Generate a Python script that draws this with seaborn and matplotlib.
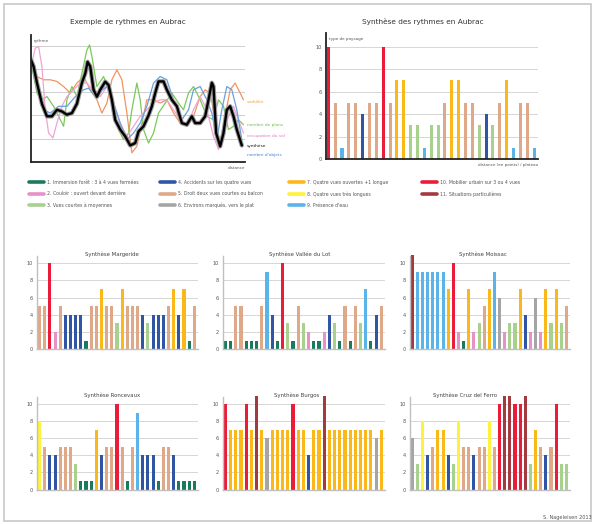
import matplotlib
matplotlib.use("Agg")
import pandas as pd
import seaborn as sns
import matplotlib.pyplot as plt
import matplotlib.patheffects as pe
from matplotlib.lines import Line2D
from matplotlib.patches import Rectangle

# couleurs des types de paysage (1 a 11)
couleurs = {1: "#1b7a5e", 2: "#e890c8", 3: "#a9d18e", 4: "#2f55a4", 5: "#dfa989",
            6: "#a5a5a5", 7: "#fbb919", 8: "#fff23a", 9: "#5ab4ea", 10: "#ea1c3a",
            11: "#a33a3f"}
libelles = ["1. Immersion forêt : 3 à 4 vues fermées",
            "2. Couloir : ouvert devant derrière",
            "3. Vues courtes à moyennes",
            "4. Accidents sur les quatre vues",
            "5. Droit deux vues courtes ou balcon",
            "6. Environs marqués, vers le plat",
            "7. Quatre vues ouvertes +1 longue",
            "8. Quatre vues très longues",
            "9. Présence d'eau",
            "10. Mobilier urbain sur 3 ou 4 vues",
            "11. Situations particulières"]

# courbes "Exemple de rythmes en Aubrac"
x_synthese = [0, 8, 18, 33, 48, 63, 78, 93, 108, 123, 138, 153, 163, 170, 178, 188, 198, 208,
              223, 233, 243, 253, 268, 283, 298, 313, 323, 338, 353, 363, 373, 383, 398, 408,
              423, 438, 453, 468, 483, 493, 508, 523, 533, 543, 548, 556, 568, 578, 588, 598,
              608, 618, 633]
y_synthese = [4.39, 4.1, 3.4, 2.5, 1.96, 1.96, 2.24, 2.17, 2.03, 2.1, 2.5, 3.4, 3.8, 4.3, 4.1,
              3.1, 2.8, 3.1, 3.45, 3.3, 2.67, 1.8, 1.39, 1.1, 0.71, 0.81, 1.31, 1.53, 2.0, 2.39,
              2.96, 3.46, 3.46, 3.1, 2.67, 2.39, 1.67, 1.6, 1.96, 1.67, 1.67, 1.96, 2.67, 3.4,
              3.24, 1.24, 0.67, 1.24, 2.24, 2.39, 1.96, 1.39, 0.71]
x_objets = [0, 18, 38, 58, 83, 108, 133, 158, 173, 188, 208, 228, 248, 268, 288, 308, 328,
            348, 368, 388, 408, 428, 453, 473, 488, 508, 528, 543, 558, 573, 588, 603, 618, 633]
y_objets = [4.3, 3.24, 2.24, 2.1, 2.39, 2.39, 2.8, 3.1, 3.17, 2.9, 3.03, 3.24, 2.53, 1.67,
            0.96, 1.24, 1.67, 2.39, 3.39, 3.67, 3.53, 2.67, 1.81, 2.24, 3.1, 3.24, 2.67, 2.1,
            0.96, 2.24, 3.24, 3.1, 2.24, 0.96]
x_plans = [0, 18, 33, 48, 68, 83, 98, 108, 123, 138, 153, 168, 176, 183, 198, 218, 233, 248,
           263, 278, 293, 303, 318, 328, 338, 353, 368, 383, 403, 423, 443, 458, 473, 488, 508,
           528, 548, 563, 578, 593, 608, 623, 638]
y_plans = [4.3, 2.96, 2.67, 2.81, 2.39, 1.96, 1.53, 2.67, 3.24, 2.81, 3.81, 4.81, 5.03, 4.53,
           3.24, 3.67, 3.1, 2.39, 1.39, 0.96, 1.24, 2.24, 3.39, 2.67, 1.39, 0.81, 1.24, 2.1,
           2.53, 2.96, 2.53, 2.24, 2.96, 3.24, 2.67, 1.96, 1.81, 2.67, 2.39, 1.39, 1.53, 1.81,
           1.6]
x_sol = [0, 13, 23, 33, 43, 53, 66, 78, 93, 108, 128, 148, 168, 188, 208, 228, 248, 268, 288,
         308, 328, 348, 368, 388, 408, 428, 448, 468, 488, 508, 528, 548, 563, 578, 593, 608,
         623, 638]
y_sol = [4.1, 4.89, 4.96, 4.1, 2.24, 1.24, 1.03, 1.67, 2.39, 2.81, 3.1, 3.39, 3.39, 3.03,
         2.81, 3.24, 2.53, 1.67, 1.1, 1.53, 1.96, 2.24, 2.53, 2.67, 2.67, 2.24, 1.81, 1.53,
         2.24, 2.81, 2.24, 1.1, 0.53, 1.24, 1.96, 2.39, 1.81, 1.24]
x_visibilite = [0, 18, 38, 58, 78, 98, 118, 138, 158, 178, 198, 213, 228, 243, 258, 273, 288,
                303, 318, 333, 348, 368, 388, 408, 428, 448, 468, 488, 508, 523, 538, 553,
                568, 583, 598, 613, 628, 638]
y_visibilite = [4.24, 3.67, 3.53, 3.53, 3.46, 3.24, 2.96, 3.39, 3.67, 3.1, 2.67, 2.1, 2.53,
                3.53, 3.96, 3.53, 2.1, 0.39, 0.67, 1.67, 2.67, 2.67, 2.53, 2.67, 2.1, 1.67,
                1.53, 1.96, 2.81, 3.1, 2.96, 1.81, 0.81, 1.96, 3.1, 3.39, 2.96, 2.67]

# syntheses (type de paysage par point)
aubrac_types = [10, 5, 9, 5, 5, 4, 5, 5, 10, 5, 7, 7, 3, 3, 9, 3, 3, 5, 7, 7, 5, 5, 3, 4, 3,
                5, 7, 9, 5, 5, 9]
aubrac_vals = [10, 5, 1, 5, 5, 4, 5, 5, 10, 5, 7, 7, 3, 3, 1, 3, 3, 5, 7, 7, 5, 5, 3, 4, 3,
               5, 7, 1, 5, 5, 1]
margeride_types = [5, 5, 10, 2, 5, 4, 4, 4, 4, 1, 5, 5, 7, 5, 5, 3, 7, 5, 5, 5, 4, 3, 4, 4,
                   4, 5, 7, 4, 7, 1, 5]
margeride_vals = [5, 5, 10, 2, 5, 4, 4, 4, 4, 1, 5, 5, 7, 5, 5, 3, 7, 5, 5, 5, 4, 3, 4, 4,
                  4, 5, 7, 4, 7, 1, 5]
lot_types = [1, 1, 5, 5, 1, 1, 1, 5, 9, 4, 1, 10, 3, 1, 5, 3, 2, 1, 1, 2, 4, 3, 1, 5, 1, 5,
             3, 9, 1, 4, 5]
lot_vals = [1, 1, 5, 5, 1, 1, 1, 5, 9, 4, 1, 10, 3, 1, 5, 3, 2, 1, 1, 2, 4, 3, 1, 5, 1, 5,
            3, 7, 1, 4, 5]
moissac_types = [11, 9, 9, 9, 9, 9, 9, 7, 10, 2, 1, 7, 2, 3, 5, 7, 9, 6, 2, 3, 3, 7, 4, 2, 6,
                 2, 7, 3, 7, 3, 5]
moissac_vals = [11, 9, 9, 9, 9, 9, 9, 7, 10, 2, 1, 7, 2, 3, 5, 7, 9, 6, 2, 3, 3, 7, 4, 2, 6,
                2, 7, 3, 7, 3, 5]
roncevaux_types = [8, 5, 4, 4, 5, 5, 5, 3, 1, 1, 1, 7, 4, 5, 5, 10, 5, 1, 5, 9, 4, 4, 4, 1,
                   5, 5, 4, 1, 1, 1, 1]
roncevaux_vals = [8, 5, 4, 4, 5, 5, 5, 3, 1, 1, 1, 7, 4, 5, 5, 10, 5, 1, 5, 9, 4, 4, 4, 1,
                  5, 5, 4, 1, 1, 1, 1]
burgos_types = [10, 7, 7, 7, 10, 7, 11, 7, 6, 7, 7, 7, 7, 10, 7, 7, 4, 7, 7, 11, 7, 7, 7, 7,
                7, 7, 7, 7, 7, 6, 7]
burgos_vals = [10, 7, 7, 7, 10, 7, 11, 7, 6, 7, 7, 7, 7, 10, 7, 7, 4, 7, 7, 11, 7, 7, 7, 7,
               7, 7, 7, 7, 7, 6, 7]
cruz_types = [6, 3, 8, 4, 5, 7, 7, 4, 3, 8, 5, 5, 4, 5, 5, 8, 5, 10, 11, 11, 10, 10, 11, 3,
              7, 5, 4, 5, 10, 3, 3]
cruz_vals = [6, 3, 8, 4, 5, 7, 7, 4, 3, 8, 5, 5, 4, 5, 5, 8, 5, 10, 11, 11, 10, 10, 11, 3,
             7, 5, 4, 5, 10, 3, 3]

sns.set_theme(style="white")
plt.rcParams['font.family'] = ['DejaVu Sans']
gris = "#555555"

fig = plt.figure(figsize=(5.95, 5.24), dpi=100)
fig.patches.append(Rectangle((0.006, 0.006), 0.988, 0.986, transform=fig.transFigure,
                             fill=False, ec="#c8c8c8", lw=1.2))


def barres(rect, types, vals, ylim, xlim, spine_col, largeur):
    ax = fig.add_axes(rect)
    df = pd.DataFrame({"pos": range(len(types)), "val": vals, "type": types})
    sns.barplot(data=df, x="pos", y="val", hue="type", palette=couleurs, dodge=False,
                width=largeur, saturation=1, legend=False, linewidth=0, ax=ax)
    for p in ax.patches:
        p.set_clip_on(False)
    ax.set_xlim(*xlim)
    ax.set_ylim(0, ylim)
    ax.set_yticks([0, 2, 4, 6, 8, 10])
    ax.set_xticks([])
    ax.set_xlabel("")
    ax.set_ylabel("")
    ax.yaxis.grid(True, color="#d6d6d6", lw=0.7)
    ax.set_axisbelow(True)
    ax.tick_params(axis="y", labelsize=3.6, colors=gris, length=0, pad=3)
    for s in ["top", "right"]:
        ax.spines[s].set_visible(False)
    for s in ["left", "bottom"]:
        ax.spines[s].set_color(spine_col)
        ax.spines[s].set_linewidth(1.0 if spine_col != "#222222" else 1.3)
    return ax


# --- Exemple de rythmes en Aubrac ---
ax1 = fig.add_axes([0.052, 0.691, 0.36, 0.242])
series = [(x_visibilite, y_visibilite, "#f4935e"), (x_plans, y_plans, "#7cc85a"),
          (x_sol, y_sol, "#f0a4d4"), (x_objets, y_objets, "#6a9fe0")]
for xs, ys, c in series:
    sns.lineplot(x=xs, y=ys, color=c, lw=0.9, ax=ax1)
sns.lineplot(x=x_synthese, y=y_synthese, color="black", lw=1.7, ax=ax1,
             path_effects=[pe.Stroke(linewidth=3.2, foreground="#9a9a9a"), pe.Normal()])
ax1.set_xlim(0, 643)
ax1.set_ylim(0, 5.45)
ax1.set_yticks([1, 2, 3, 4, 5])
ax1.set_xticks([])
ax1.yaxis.grid(True, color="#c8c8c8", lw=0.6)
ax1.set_axisbelow(True)
ax1.tick_params(axis="y", length=0, labelleft=False)
for s in ["top", "right"]:
    ax1.spines[s].set_visible(False)
for s in ["left", "bottom"]:
    ax1.spines[s].set_color("#222222")
    ax1.spines[s].set_linewidth(1.3)
ax1.text(0.012, 0.97, "rythme", transform=ax1.transAxes, fontsize=3, color=gris, va="top")
ax1.text(1.0, -0.03, "distance", transform=ax1.transAxes, fontsize=3, color=gris,
         ha="right", va="top")
fig.text(128 / 595, 1 - 21.7 / 524, "Exemple de rythmes en Aubrac", ha="center", va="center",
         fontsize=5.3, color="#333333")
etiquettes = [("visibilité", 102, "#f4a040"), ("nombre de plans", 125, "#70c050"),
              ("occupation du sol", 136.5, "#e07ac0"), ("synthèse", 146, "#111111"),
              ("nombre d'objets", 155, "#4a80d0")]
for txt, ypx, c in etiquettes:
    fig.text(247 / 595, 1 - ypx / 524, txt, fontsize=3.1, color=c, va="center")

# --- Synthese des rythmes en Aubrac ---
ax2 = barres([0.548, 0.696, 0.356, 0.241], aubrac_types, aubrac_vals, 11.2, (-0.33, 30.55),
             "#222222", 0.45)
ax2.text(0.015, 0.97, "type de paysage", transform=ax2.transAxes, fontsize=3, color=gris,
         va="top")
ax2.text(1.0, -0.03, "distance (en points) / plateau", transform=ax2.transAxes, fontsize=3,
         color=gris, ha="right", va="top")
fig.text(423 / 595, 1 - 21.7 / 524, "Synthèse des rythmes en Aubrac", ha="center",
         va="center", fontsize=5.3, color="#333333")

# --- legende ---
poignees = [Line2D([0], [0], color=couleurs[k], lw=2.6) for k in range(1, 12)]
colonnes = [(29, [0, 1, 2]), (160, [3, 4, 5]), (289, [6, 7, 8]), (422, [9, 10])]
for xpx, idx in colonnes:
    fig.legend([poignees[i] for i in idx], [libelles[i] for i in idx], loc="upper left",
               bbox_to_anchor=(xpx / 595, 1 - 180 / 524), frameon=False, fontsize=3.3,
               handlelength=3.2, handletextpad=0.7, labelspacing=1.35, borderpad=0,
               borderaxespad=0, labelcolor=gris)

# --- syntheses par etape ---
panneaux = [
    ([0.0627, 0.3334, 0.270, 0.1773], "Synthèse Margeride", margeride_types, margeride_vals, 0.463),
    ([0.375, 0.3334, 0.272, 0.1773], "Synthèse Vallée du Lot", lot_types, lot_vals, 0.474),
    ([0.689, 0.3334, 0.269, 0.1773], "Synthèse Moissac", moissac_types, moissac_vals, 0.458),
    ([0.0627, 0.0658, 0.270, 0.176], "Synthèse Roncevaux", roncevaux_types, roncevaux_vals, 0.463),
    ([0.375, 0.0658, 0.272, 0.176], "Synthèse Burgos", burgos_types, burgos_vals, 0.454),
    ([0.689, 0.0658, 0.269, 0.176], "Synthèse Cruz del Ferro", cruz_types, cruz_vals, 0.344),
]
for rect, titre, types, vals, tx in panneaux:
    ax = barres(rect, types, vals, 10.8, (-0.45, 30.7), "#c0c0c0", 0.6)
    ax.text(tx, 1.027, titre, transform=ax.transAxes, ha="center", va="center",
            fontsize=3.9, color="#444444")

fig.text(0.995, 1 - 517 / 524, "S. Nageleisen 2013", ha="right", va="center", fontsize=3.6,
         color=gris)

plt.savefig("out.png", dpi=100)
